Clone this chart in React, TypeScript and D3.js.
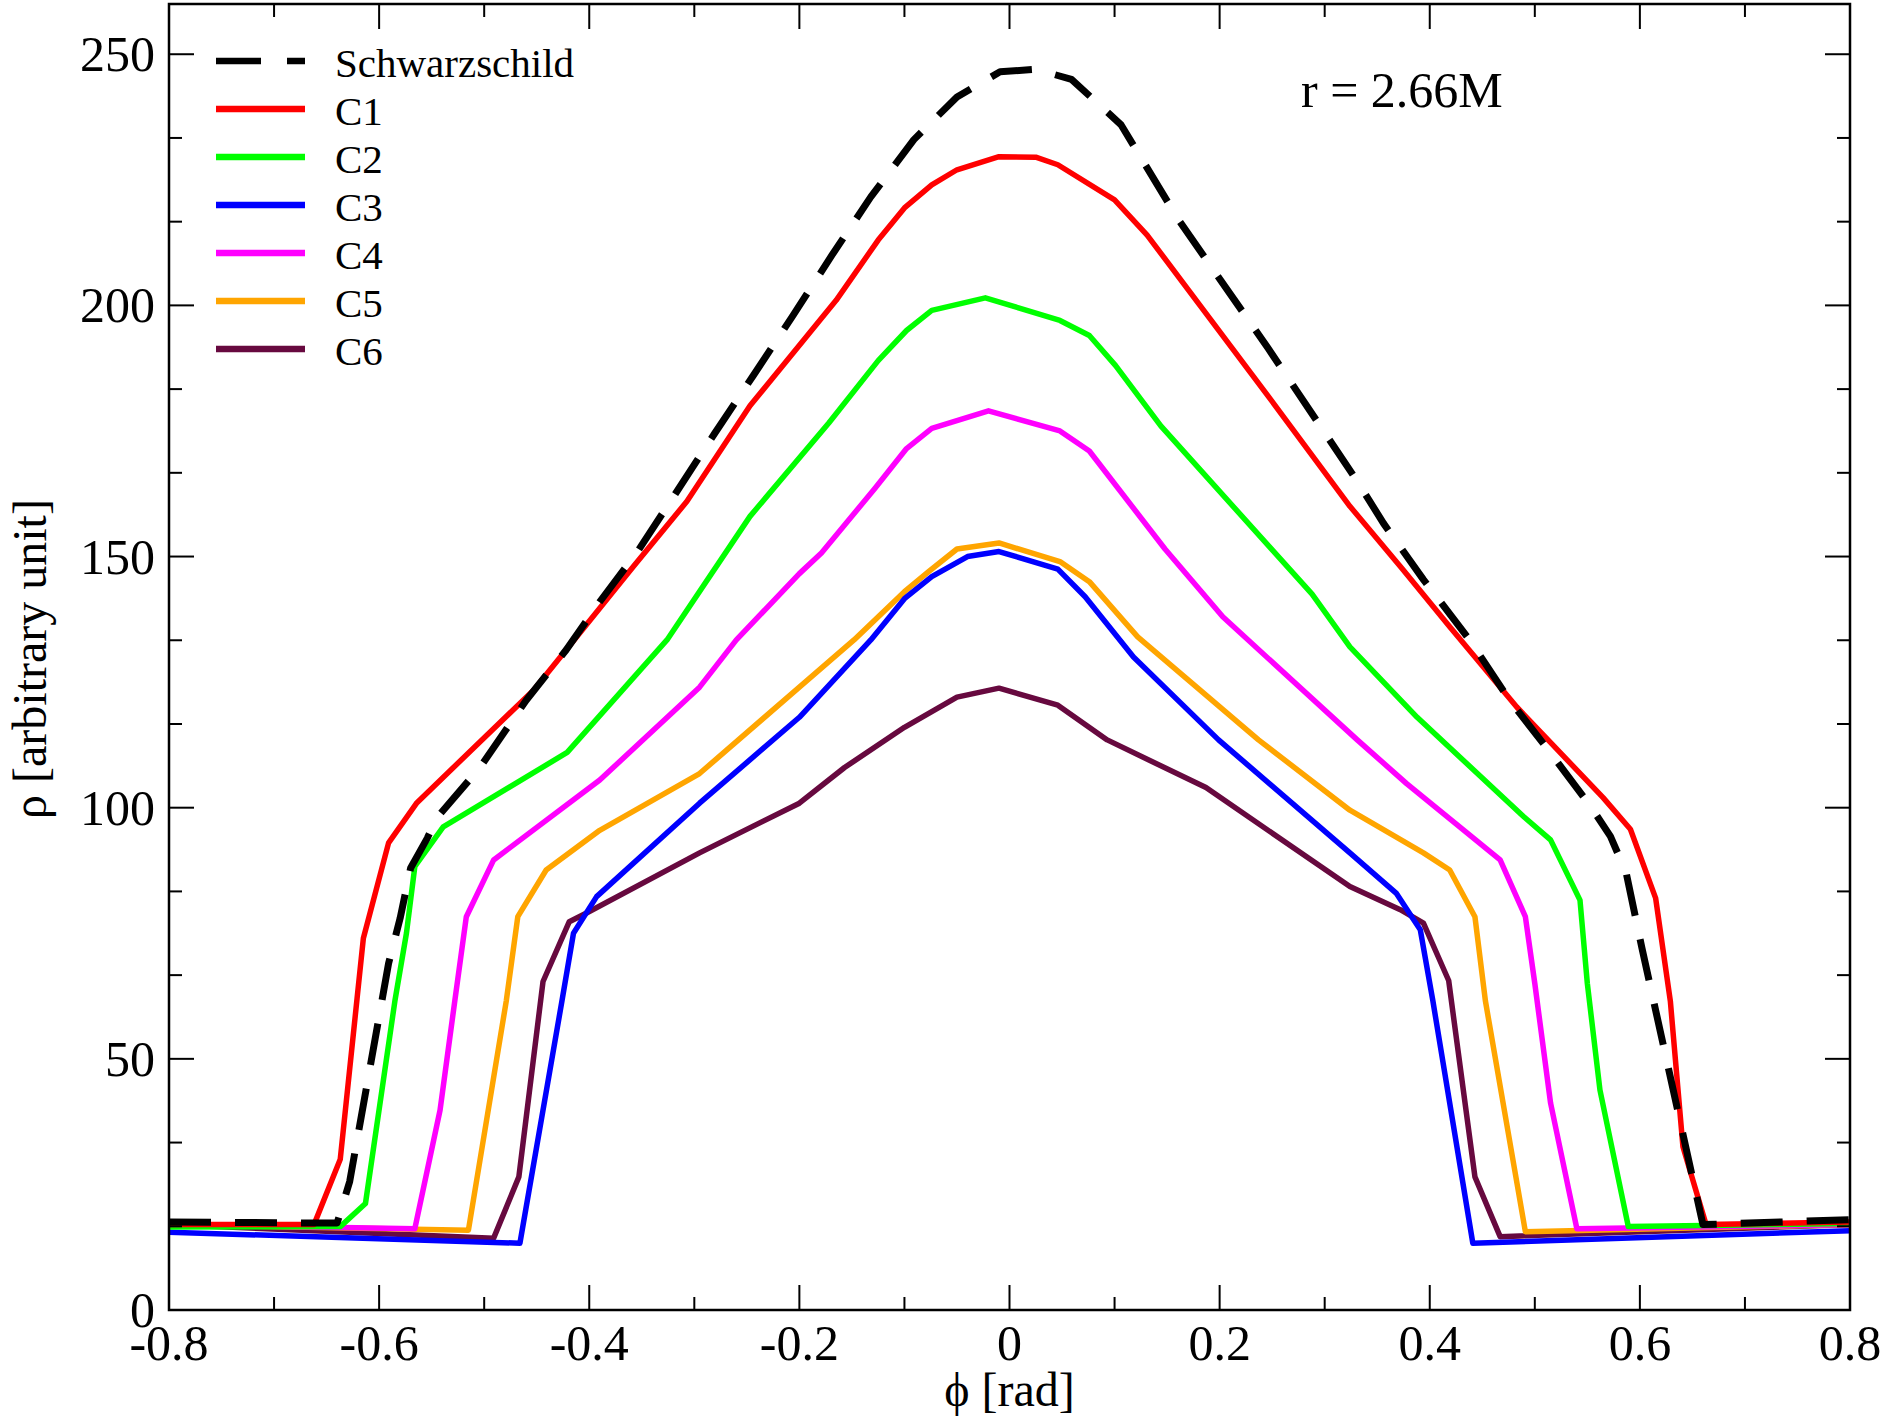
import * as d3 from "d3";

const seriesNames = ["Schwarzschild", "C1", "C2", "C3", "C4", "C5", "C6"];
const seriesColors = ["#000000", "#ff0000", "#00ff00", "#0000ff", "#ff00ff", "#ffa500", "#67093f"];

const schwarzschild: [number, number][] = [
  [-0.8, 17.5], [-0.64, 17.3], [-0.628, 25.6], [-0.591, 69], [-0.58, 78], [-0.57, 88], [-0.554, 94],
  [-0.545, 98], [-0.504, 108], [-0.46, 121.4], [-0.422, 131.4], [-0.39, 141], [-0.354, 151],
  [-0.318, 162.5], [-0.281, 174.4], [-0.244, 186], [-0.206, 198], [-0.169, 210], [-0.132, 221.6],
  [-0.091, 233], [-0.05, 241.5], [-0.009, 246.5], [0.025, 247], [0.059, 245], [0.106, 236],
  [0.161, 217], [0.246, 191.5], [0.331, 165], [0.356, 156.6], [0.394, 145.4], [0.438, 133.4],
  [0.476, 121.4], [0.515, 110.9], [0.553, 100.3], [0.572, 94.3], [0.587, 87], [0.602, 72],
  [0.66, 17], [0.8, 18],
];
const c1: [number, number][] = [
  [-0.8, 17], [-0.662, 17], [-0.637, 30], [-0.621, 62], [-0.615, 74], [-0.591, 93], [-0.564, 101],
  [-0.453, 123.4], [-0.358, 148], [-0.307, 161], [-0.247, 180], [-0.165, 201], [-0.125, 213],
  [-0.1, 219.4], [-0.074, 224], [-0.05, 227], [-0.01, 229.6], [0.025, 229.5], [0.046, 228],
  [0.1, 221], [0.131, 214], [0.246, 182], [0.324, 160], [0.374, 147.5], [0.419, 136], [0.483, 120],
  [0.565, 102], [0.591, 95.7], [0.615, 82], [0.629, 61.5], [0.641, 32.5], [0.663, 17], [0.8, 17.5],
];
const c2: [number, number][] = [
  [-0.8, 16.5], [-0.637, 16.6], [-0.613, 21.2], [-0.585, 61.5], [-0.574, 75], [-0.566, 88.3],
  [-0.539, 96.2], [-0.421, 111], [-0.326, 133.4], [-0.247, 158], [-0.172, 176.6], [-0.125, 189],
  [-0.098, 195], [-0.074, 199], [-0.023, 201.5], [0.048, 197], [0.076, 194], [0.101, 188],
  [0.144, 176], [0.288, 142.5], [0.324, 132], [0.388, 118], [0.489, 98.3], [0.515, 93.6],
  [0.543, 81.6], [0.55, 65], [0.562, 43.8], [0.589, 16.6], [0.8, 17.2],
];
const c3: [number, number][] = [
  [-0.8, 15.5], [-0.466, 13.3], [-0.426, 61.5], [-0.415, 75], [-0.393, 82.3], [-0.295, 100.9],
  [-0.2, 118], [-0.132, 133.4], [-0.1, 141.6], [-0.074, 146], [-0.04, 150], [-0.01, 151],
  [0.046, 147.5], [0.072, 142], [0.118, 130], [0.199, 113.5], [0.324, 91], [0.368, 83],
  [0.391, 75.7], [0.403, 61.5], [0.441, 13.3], [0.8, 15.8],
];
const c4: [number, number][] = [
  [-0.8, 17], [-0.566, 16.2], [-0.542, 39.8], [-0.528, 61.5], [-0.517, 78.3], [-0.491, 89.6],
  [-0.39, 105.5], [-0.295, 124], [-0.26, 133.4], [-0.2, 146.6], [-0.179, 150.7], [-0.128, 163.6],
  [-0.098, 171.5], [-0.074, 175.5], [-0.02, 179], [0.048, 175], [0.076, 171], [0.148, 151.5],
  [0.203, 138], [0.331, 113.5], [0.378, 104.8], [0.467, 89.6], [0.491, 78.3], [0.5, 65],
  [0.515, 41.2], [0.54, 16.2], [0.8, 17],
];
const c5: [number, number][] = [
  [-0.8, 17], [-0.515, 15.9], [-0.479, 61.5], [-0.468, 78.3], [-0.441, 87.6], [-0.39, 95.5],
  [-0.295, 106.8], [-0.2, 124], [-0.148, 133.4], [-0.1, 143], [-0.077, 147], [-0.05, 151.5],
  [-0.01, 152.7], [0.048, 149], [0.076, 145], [0.122, 134], [0.237, 113.5], [0.324, 99.5],
  [0.394, 91], [0.419, 87.6], [0.443, 78.3], [0.453, 61.5], [0.491, 15.6], [0.8, 17],
];
const c6: [number, number][] = [
  [-0.8, 17], [-0.491, 14.3], [-0.467, 26.5], [-0.444, 65.4], [-0.419, 77.3], [-0.403, 79],
  [-0.295, 91], [-0.2, 100.9], [-0.157, 108], [-0.1, 116], [-0.05, 122], [-0.01, 123.8],
  [0.046, 120.4], [0.093, 113.5], [0.187, 104], [0.324, 84.3], [0.372, 79.7], [0.394, 77],
  [0.418, 65.6], [0.443, 26.5], [0.467, 14.6], [0.8, 17],
];
const allSeries = [schwarzschild, c1, c2, c3, c4, c5, c6];
const drawOrder = [6, 5, 4, 3, 2, 1, 0];

const xTicks = [-0.8, -0.6, -0.4, -0.2, 0, 0.2, 0.4, 0.6, 0.8];
const yTicks = [0, 50, 100, 150, 200, 250];

const W = 1890, H = 1426;
const L = 169, R = 1850, T = 4, B = 1310;
const FONT = "'Liberation Serif', 'Times New Roman', serif";
const DASH = "42 24";

export default function App() {
  const x = d3.scaleLinear().domain([-0.8, 0.8]).range([L, R]);
  const y = d3.scaleLinear().domain([0, 260]).range([B, T]);
  const line = d3.line<[number, number]>().x((d) => x(d[0])).y((d) => y(d[1]));
  const xMinor = d3.range(-0.8, 0.8001, 0.1);
  const yMinor = d3.range(0, 260, 50 / 3);

  return (
    <svg width={W} height={H} style={{ position: "absolute", left: 0, top: 0, background: "#fff" }}>
      <defs>
        <clipPath id="pa"><rect x={L} y={T} width={R - L} height={B - T} /></clipPath>
      </defs>
      <g clipPath="url(#pa)">
        {drawOrder.map((i) => (
          <path key={i} d={line(allSeries[i]) ?? ""} fill="none" stroke={seriesColors[i]}
            strokeWidth={i === 0 ? 7 : 5.5} strokeDasharray={i === 0 ? DASH : undefined} strokeLinejoin="round" />
        ))}
      </g>
      <rect x={L} y={T} width={R - L} height={B - T} fill="none" stroke="#000" strokeWidth={2.5} />
      {xMinor.map((v, i) => {
        const len = i % 2 === 0 ? 25 : 13;
        return (
          <g key={"x" + i} stroke="#000" strokeWidth={2}>
            <line x1={x(v)} x2={x(v)} y1={B} y2={B - len} />
            <line x1={x(v)} x2={x(v)} y1={T} y2={T + len} />
          </g>
        );
      })}
      {yMinor.map((v, i) => {
        const len = i % 3 === 0 ? 25 : 13;
        return (
          <g key={"y" + i} stroke="#000" strokeWidth={2}>
            <line x1={L} x2={L + len} y1={y(v)} y2={y(v)} />
            <line x1={R} x2={R - len} y1={y(v)} y2={y(v)} />
          </g>
        );
      })}
      {xTicks.map((v) => (
        <text key={"xt" + v} x={x(v)} y={1360} textAnchor="middle" fontFamily={FONT} fontSize={50}>
          {v === 0 ? "0" : v.toFixed(1)}
        </text>
      ))}
      {yTicks.map((v) => (
        <text key={"yt" + v} x={L - 14} y={y(v) + 17} textAnchor="end" fontFamily={FONT} fontSize={50}>
          {v}
        </text>
      ))}
      <text x={(L + R) / 2} y={1406} textAnchor="middle" fontFamily={FONT} fontSize={48}>ϕ [rad]</text>
      <text transform={`translate(46,${(T + B) / 2 + 2}) rotate(-90)`} textAnchor="middle" fontFamily={FONT} fontSize={48}>
        ρ [arbitrary unit]
      </text>
      <text x={1301} y={107} fontFamily={FONT} fontSize={50}>r = 2.66M</text>
      {seriesNames.map((n, i) => {
        const yy = 61 + i * 48;
        return (
          <g key={n}>
            <line x1={216} x2={305} y1={yy} y2={yy} stroke={seriesColors[i]} strokeWidth={6.5}
              strokeDasharray={i === 0 ? "45 26" : undefined} />
            <text x={335} y={yy + 16} fontFamily={FONT} fontSize={41}>{n}</text>
          </g>
        );
      })}
    </svg>
  );
}
